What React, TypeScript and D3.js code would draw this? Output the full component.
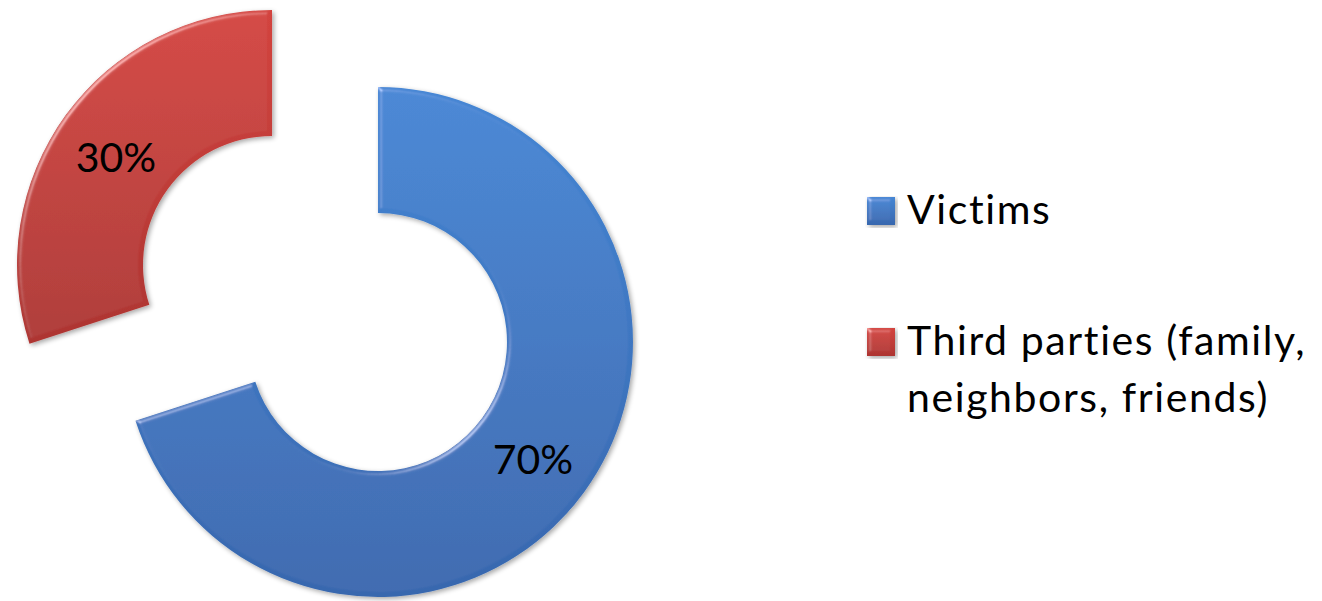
import React from "react";
import * as d3 from "d3";

const categories = ["Victims", "Third parties (family, neighbors, friends)"];
const values = [70, 30];
const valueLabels = ["70%", "30%"];
const legendLines = [["Victims"], ["Third parties (family,", "neighbors, friends)"]];
const topColors = ["#4586d4", "#d3443f"];
const bottomColors = ["#3867ae", "#ad3532"];

const W = 1322;
const H = 601;
const CX = 325;
const CY = 303.5;
const R_OUT = 255;
const R_IN = 129;
const EXPLODE = 65.5;
const FONT = "Lato, 'Open Sans', sans-serif";

export default function App() {
  const pie = d3.pie<number>().sort(null).startAngle(0).endAngle(2 * Math.PI)(values);
  const arc = d3.arc<d3.PieArcDatum<number>>().innerRadius(R_IN).outerRadius(R_OUT);
  const labelPos = [
    [533, 458],
    [116, 156],
  ];
  const textStyle = { fontVariantLigatures: "none" as const };
  return (
    <svg width={W} height={H} style={{ position: "absolute", left: 0, top: 0, background: "#fff" }}>
      <defs>
        {categories.map((_, i) => (
          <linearGradient key={i} id={`g${i}`} x1="0" y1="0" x2="0" y2="1">
            <stop offset="0%" stopColor={topColors[i]} />
            <stop offset="100%" stopColor={bottomColors[i]} />
          </linearGradient>
        ))}
        <filter id="bevel" x="-10%" y="-10%" width="120%" height="120%">
          <feGaussianBlur in="SourceAlpha" stdDeviation="2" result="blur" />
          <feSpecularLighting in="blur" surfaceScale="3" specularConstant="0.6" specularExponent="22" lightingColor="#ffffff" result="spec">
            <feDistantLight azimuth="225" elevation="30" />
          </feSpecularLighting>
          <feComposite in="spec" in2="SourceAlpha" operator="in" result="specOut" />
          <feComposite in="SourceGraphic" in2="specOut" operator="arithmetic" k1="0" k2="1" k3="0.6" k4="0" result="lit" />
          <feGaussianBlur in="SourceAlpha" stdDeviation="2.5" result="sblur" />
          <feOffset in="sblur" dx="1.5" dy="2" result="soff" />
          <feComponentTransfer in="soff" result="shadow">
            <feFuncA type="linear" slope="0.35" />
          </feComponentTransfer>
          <feMerge>
            <feMergeNode in="shadow" />
            <feMergeNode in="lit" />
          </feMerge>
        </filter>
      </defs>
      {pie.map((d, i) => {
        const mid = (d.startAngle + d.endAngle) / 2;
        const ox = CX + EXPLODE * Math.sin(mid);
        const oy = CY - EXPLODE * Math.cos(mid);
        return (
          <g key={i} transform={`translate(${ox},${oy})`}>
            <path d={arc(d) || ""} fill={`url(#g${i})`} filter="url(#bevel)" />
          </g>
        );
      })}
      {valueLabels.map((t, i) => (
        <text key={i} x={labelPos[i][0]} y={labelPos[i][1]} textAnchor="middle" dominantBaseline="central" fontFamily={FONT} fontSize={41} fill="#000" style={textStyle}>
          {t}
        </text>
      ))}
      {legendLines.map((lines, i) => {
        const sy = [197, 328][i];
        return (
          <g key={i}>
            <rect x={867} y={sy} width={28} height={28} fill={`url(#g${i})`} filter="url(#bevel)" />
            {lines.map((ln, j) => (
              <text key={j} x={907} y={sy + 27 + j * 57} fontFamily={FONT} fontSize={41} letterSpacing={1.6} fill="#000" style={textStyle}>
                {ln}
              </text>
            ))}
          </g>
        );
      })}
    </svg>
  );
}
